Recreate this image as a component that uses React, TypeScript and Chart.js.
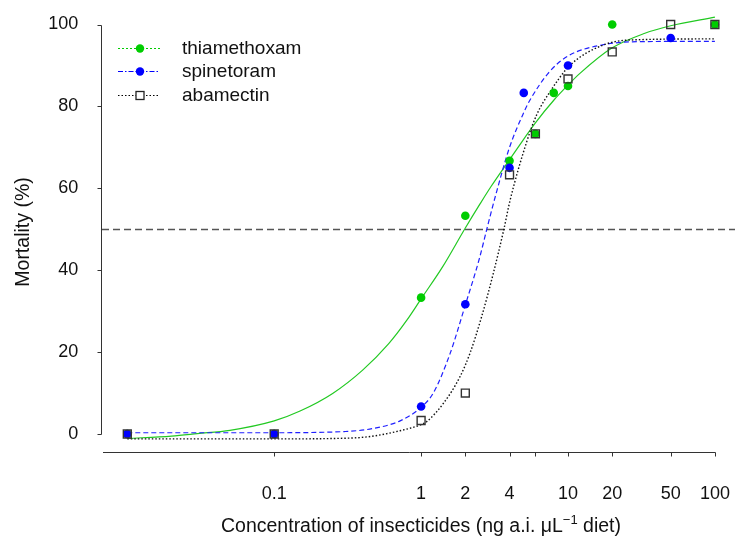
import React, { useEffect, useRef } from 'react';
import { Chart, registerables } from 'chart.js';

Chart.register(...registerables);

// ---- axis ticks ----
const xTickValues = [0.1, 1, 2, 4, 6, 10, 20, 50, 100];
const xTickLabels = ['0.1', '1', '2', '4', '', '10', '20', '50', '100'];
const yTickValues = [0, 20, 40, 60, 80, 100];

// ---- observed mortality (%) ----
const thiaConc = [0.01, 0.1, 1, 2, 4, 6, 8, 10, 20, 100];
const thiaMort = [0, 0, 33.3, 53.3, 66.7, 73.3, 83.3, 85, 100, 100];
const spinConc = [0.01, 0.1, 1, 2, 4, 5, 10, 50];
const spinMort = [0, 0, 6.7, 31.7, 65, 83.3, 90, 96.7];
const abamConc = [0.01, 0.1, 1, 2, 4, 6, 10, 20, 50, 100];
const abamMort = [0, 0, 3.3, 10, 63.3, 73.3, 86.7, 93.3, 100, 100];

// ---- fitted curves ----
const thiaCurveX = [0.01, 0.02, 0.03, 0.05, 0.1, 0.15, 0.25, 0.4, 0.6, 0.8, 1, 1.4, 2, 2.5, 3, 4, 5, 6, 8, 10, 12, 20, 33, 50, 100];
const thiaCurveY = [-1.1, -0.5, 0.1, 0.9, 3.2, 5.6, 9.9, 15.6, 22, 27.8, 33, 40.8, 50.3, 56, 60.5, 67, 72, 76, 81.5, 85.2, 88, 94.3, 97.8, 99.7, 101.8];
const spinCurveX = [0.01, 0.1, 0.2, 0.3, 0.43, 0.6, 0.72, 1, 1.21, 1.57, 2, 2.5, 2.8, 3.2, 4, 5, 5.5, 7.5, 10, 17, 30, 100];
const spinCurveY = [0.3, 0.3, 0.4, 0.6, 1.1, 2.2, 3.2, 6.5, 10, 19.5, 31.5, 43, 50, 58, 70, 78.5, 81.5, 88.5, 92.3, 95, 95.8, 95.9];
const abamCurveX = [0.01, 0.1, 0.25, 0.43, 0.72, 1, 1.09, 1.42, 1.84, 2.15, 2.58, 3.1, 3.66, 4.03, 5.24, 6.13, 7.55, 10.3, 17.4, 26, 100];
const abamCurveY = [-1.2, -1.2, -1.1, -0.7, 0.8, 2.3, 3.0, 7.5, 14, 19.7, 28.6, 39.2, 50, 57, 71.4, 78, 83.6, 90, 95, 96.2, 96.5];

const seriesNames = ['thiamethoxam', 'spinetoram', 'abamectin'];

const FONT = '"Liberation Sans", Arial, Helvetica, sans-serif';
const GREEN = '#00CD00';
const BLUE = '#0000FF';

// target mapping of the reference plot (pixel of log10(x)=0 and px per decade; pixel of y=0 and px per unit)
const X_ONE_PX = 421.1;
const X_DECADE_PX = 146.9;
const Y_ZERO_PX = 434;
const Y_UNIT_PX = 4.095;

function pts(xs: number[], ys: number[]) {
  return xs.map((x, i) => ({ x, y: ys[i] }));
}

export default function App() {
  const ref = useRef<HTMLCanvasElement>(null);

  useEffect(() => {
    const canvas = ref.current!;

    const overlay = {
      id: 'overlay',
      beforeDatasetsDraw(chart: any) {
        const { ctx, chartArea, scales } = chart;
        const y50 = Math.round(scales.y.getPixelForValue(50)) + 0.5;
        ctx.save();
        ctx.strokeStyle = '#555';
        ctx.lineWidth = 1.6;
        ctx.setLineDash([7, 4]);
        ctx.beginPath();
        ctx.moveTo(chartArea.left, y50);
        ctx.lineTo(735, y50);
        ctx.stroke();
        ctx.restore();
      },
      afterDraw(chart: any) {
        const { ctx, chartArea, scales } = chart;
        const xs = scales.x;
        const ys = scales.y;
        ctx.save();
        ctx.strokeStyle = '#333';
        ctx.lineWidth = 1;
        ctx.setLineDash([]);
        // y axis
        const ax = Math.round(chartArea.left) - 0.5;
        const y0 = Math.round(ys.getPixelForValue(0)) + 0.5;
        const y100 = Math.round(ys.getPixelForValue(100)) + 0.5;
        ctx.beginPath();
        ctx.moveTo(ax, y0);
        ctx.lineTo(ax, y100);
        yTickValues.forEach((v) => {
          const py = Math.round(ys.getPixelForValue(v)) + 0.5;
          ctx.moveTo(ax, py);
          ctx.lineTo(ax - 4, py);
        });
        ctx.stroke();
        // x axis
        const ay = Math.round(chartArea.bottom) + 0.5;
        ctx.beginPath();
        ctx.moveTo(chartArea.left + 1, ay);
        ctx.lineTo(Math.round(xs.getPixelForValue(100)) + 0.5, ay);
        xTickValues.forEach((v) => {
          const px = Math.round(xs.getPixelForValue(v)) + 0.5;
          ctx.moveTo(px, ay);
          ctx.lineTo(px, ay + 4);
        });
        ctx.stroke();

        // y title
        ctx.fillStyle = '#111';
        ctx.font = `19.5px ${FONT}`;
        ctx.save();
        ctx.translate(24, 232);
        ctx.rotate(-Math.PI / 2);
        ctx.textAlign = 'center';
        ctx.textBaseline = 'middle';
        ctx.fillText('Mortality (%)', 0, 0);
        ctx.restore();

        // x title with superscript
        const partA = 'Concentration of insecticides (ng a.i. \u03bcL';
        const sup = '\u22121';
        const partB = ' diet)';
        ctx.font = `19.5px ${FONT}`;
        const wA = ctx.measureText(partA).width;
        const wB = ctx.measureText(partB).width;
        ctx.font = `13px ${FONT}`;
        const wS = ctx.measureText(sup).width;
        const total = wA + wS + wB;
        let sx = 421 - total / 2;
        const base = 532;
        ctx.textAlign = 'left';
        ctx.textBaseline = 'alphabetic';
        ctx.font = `19.5px ${FONT}`;
        ctx.fillText(partA, sx, base);
        sx += wA;
        ctx.font = `13px ${FONT}`;
        ctx.fillText(sup, sx, base - 8);
        sx += wS;
        ctx.font = `19.5px ${FONT}`;
        ctx.fillText(partB, sx, base);

        // legend
        const items = [
          { label: seriesNames[0], color: GREEN, dash: [2, 2], marker: 'circle' },
          { label: seriesNames[1], color: BLUE, dash: [5, 2, 1.5, 2], marker: 'circle' },
          { label: seriesNames[2], color: '#000', dash: [1.5, 2], marker: 'square' },
        ];
        const rowsY = [48, 71, 95];
        items.forEach((it, i) => {
          const y = rowsY[i] + 0.5;
          ctx.strokeStyle = it.color;
          ctx.lineWidth = 1.2;
          ctx.setLineDash(it.dash);
          ctx.beginPath();
          ctx.moveTo(118, y);
          ctx.lineTo(160, y);
          ctx.stroke();
          ctx.setLineDash([]);
          if (it.marker === 'circle') {
            ctx.fillStyle = it.color;
            ctx.beginPath();
            ctx.arc(140, y, 4.2, 0, Math.PI * 2);
            ctx.fill();
          } else {
            ctx.fillStyle = '#fff';
            ctx.fillRect(136, y - 4, 8, 8);
            ctx.strokeStyle = '#222';
            ctx.lineWidth = 1.3;
            ctx.strokeRect(136, y - 4, 8, 8);
          }
          ctx.fillStyle = '#111';
          ctx.font = `19px ${FONT}`;
          ctx.textAlign = 'left';
          ctx.textBaseline = 'middle';
          ctx.fillText(it.label, 182, rowsY[i] + 1);
        });
        ctx.restore();
      },
    };

    const zeroPad = (scale: any) => {
      scale.paddingTop = 0;
      scale.paddingBottom = 0;
      scale.paddingLeft = 0;
      scale.paddingRight = 0;
    };

    const chart = new Chart(canvas, {
      type: 'line',
      data: {
        datasets: [
          {
            label: seriesNames[0] + ' fit',
            data: pts(thiaCurveX, thiaCurveY),
            borderColor: '#22C922',
            borderWidth: 1.2,
            pointRadius: 0,
            cubicInterpolationMode: 'monotone',
            fill: false,
            order: 10,
            clip: false,
          },
          {
            label: seriesNames[1] + ' fit',
            data: pts(spinCurveX, spinCurveY),
            borderColor: '#2020FF',
            borderWidth: 1.2,
            borderDash: [5, 3],
            pointRadius: 0,
            cubicInterpolationMode: 'monotone',
            fill: false,
            order: 9,
            clip: false,
          },
          {
            label: seriesNames[2] + ' fit',
            data: pts(abamCurveX, abamCurveY),
            borderColor: '#111',
            borderWidth: 1.4,
            borderDash: [1.5, 2],
            pointRadius: 0,
            cubicInterpolationMode: 'monotone',
            fill: false,
            order: 8,
            clip: false,
          },
          {
            label: seriesNames[0],
            data: pts(thiaConc, thiaMort),
            showLine: false,
            pointStyle: 'circle',
            pointRadius: 4.3,
            pointBackgroundColor: GREEN,
            pointBorderColor: GREEN,
            pointBorderWidth: 0,
            order: 5,
            clip: false,
          },
          {
            label: seriesNames[1],
            data: pts(spinConc, spinMort),
            showLine: false,
            pointStyle: 'circle',
            pointRadius: 4.3,
            pointBackgroundColor: BLUE,
            pointBorderColor: BLUE,
            pointBorderWidth: 0,
            order: 4,
            clip: false,
          },
          {
            label: seriesNames[2],
            data: pts(abamConc, abamMort),
            showLine: false,
            pointStyle: 'rect',
            pointRadius: 5.6,
            pointBackgroundColor: 'rgba(0,0,0,0)',
            pointBorderColor: '#333',
            pointBorderWidth: 1.4,
            order: 3,
            clip: false,
          },
        ] as any,
      },
      options: {
        responsive: false,
        maintainAspectRatio: false,
        animation: false,
        devicePixelRatio: 1,
        layout: { padding: { top: 6.5, right: 0, bottom: 0, left: 0 } },
        plugins: {
          legend: { display: false },
          tooltip: { enabled: false },
          title: { display: false },
        },
        scales: {
          x: {
            type: 'logarithmic',
            min: Math.pow(10, -2.1722),
            max: Math.pow(10, 2.1368),
            grid: { display: false, drawTicks: false },
            border: { display: false },
            afterBuildTicks: (scale: any) => {
              scale.ticks = xTickValues.map((v) => ({ value: v }));
            },
            afterFit: (scale: any) => {
              scale.height = 90;
              zeroPad(scale);
            },
            ticks: {
              autoSkip: false,
              maxRotation: 0,
              minRotation: 0,
              padding: 31,
              color: '#111',
              font: { family: FONT, size: 18 },
              callback: (_v: any, i: number) => xTickLabels[i],
            },
          },
          y: {
            type: 'linear',
            min: -4.3956,
            max: 104.395,
            grid: { display: false, drawTicks: false },
            border: { display: false },
            afterBuildTicks: (scale: any) => {
              scale.ticks = yTickValues.map((v) => ({ value: v }));
            },
            afterFit: (scale: any) => {
              scale.width = 102;
              zeroPad(scale);
            },
            ticks: {
              padding: 23.7,
              color: '#111',
              font: { family: FONT, size: 18 },
              callback: (v: any) => String(v),
            },
          },
        },
      } as any,
      plugins: [overlay],
    });

    // align the scales to the reference pixel mapping using the actual chart area
    const ca = chart.chartArea;
    const sx: any = (chart.options as any).scales.x;
    const sy: any = (chart.options as any).scales.y;
    sx.min = Math.pow(10, (ca.left - X_ONE_PX) / X_DECADE_PX);
    sx.max = Math.pow(10, (ca.right - X_ONE_PX) / X_DECADE_PX);
    sy.min = (Y_ZERO_PX - ca.bottom) / Y_UNIT_PX;
    sy.max = (Y_ZERO_PX - ca.top) / Y_UNIT_PX;
    chart.update('none');

    return () => chart.destroy();
  }, []);

  return (
    <div style={{ position: 'fixed', left: 0, top: 0, width: 735, height: 542, background: '#fff' }}>
      <canvas ref={ref} width={735} height={542} style={{ display: 'block', width: 735, height: 542 }} />
    </div>
  );
}
